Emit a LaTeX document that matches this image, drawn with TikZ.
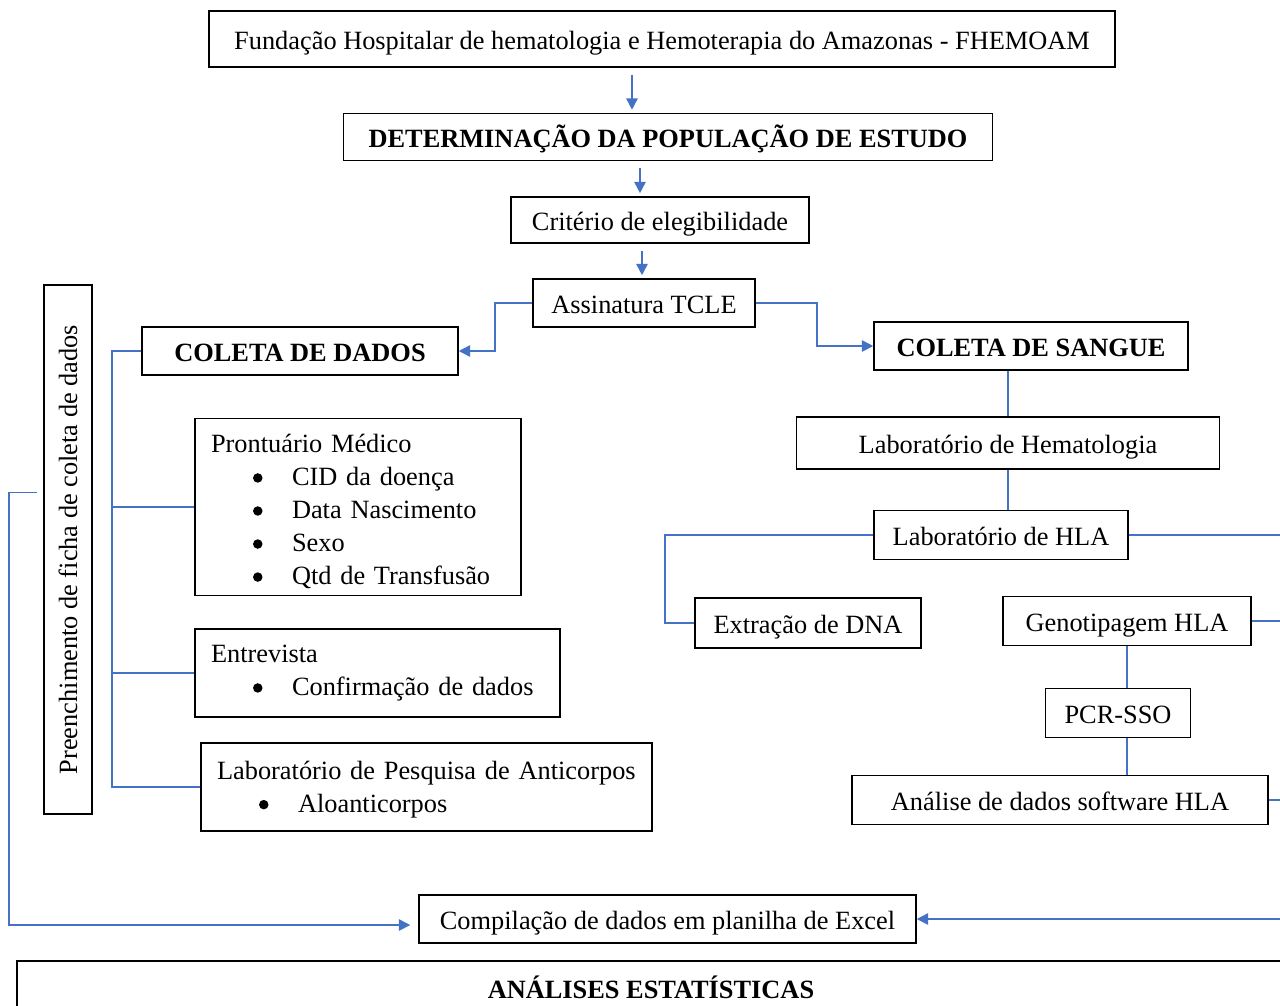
\documentclass[tikz,border=0pt]{standalone}
\usepackage{fontspec}
\setmainfont{Liberation Serif}
\usetikzlibrary{arrows.meta,calc}
\definecolor{lineblue}{HTML}{4472C4}
\newcommand{\blt}[1]{\hspace*{0.84cm}\makebox[0.78cm][l]{\tikz[baseline=-0.15cm]\fill (0,0) circle (0.095cm);}#1}
\newcommand{\liststrut}[1]{\rule{0pt}{#1}}

\begin{document}
\begin{tikzpicture}[
      x=0.02cm, y=-0.02cm,
      myframe/.style={
         draw=black,
         line width=0.9pt,
         inner sep=0pt,
         font=\fontsize{15}{18.8}\selectfont},
      mybox/.style={myframe, align=center, text height=13.5pt, text depth=2pt},
      mybold/.style={mybox, font=\fontsize{15}{18.8}\selectfont\bfseries},
      mylist/.style={myframe, align=left, inner xsep=0.32cm, inner ysep=0.1cm},
      myline/.style={draw=lineblue, line width=0.9pt},
      myarrow/.style={myline, -{Triangle[length=6.5pt,width=6.5pt]}}
      ]
      \clip (0,0) rectangle (1280,1005);
      \coordinate (edge) at (1290,0);

      \node[mybox, minimum width=18.12cm, minimum height=1.12cm] (fhe) at (662,39) {Fundação Hospitalar de hematologia e Hemoterapia do Amazonas - FHEMOAM};
      \node[mybold, minimum width=12.98cm, minimum height=0.94cm] (det) at (668,137) {DETERMINAÇÃO DA POPULAÇÃO DE ESTUDO};
      \node[mybox, minimum width=5.96cm, minimum height=0.92cm] (crit) at (660,220) {Critério de elegibilidade};
      \node[mybox, minimum width=4.44cm, minimum height=0.96cm] (tcle) at (644,303) {Assinatura TCLE};
      \node[mybold, minimum width=6.32cm, minimum height=0.96cm] (dados) at (300,351) {COLETA DE DADOS};
      \node[mybold, minimum width=6.28cm, minimum height=0.96cm] (sangue) at (1031,346) {COLETA DE SANGUE};
      \node[mybox, minimum width=8.46cm, minimum height=1.04cm] (hemato) at (1008,443) {Laboratório de Hematologia};
      \node[mybox, minimum width=5.08cm, minimum height=0.98cm] (hla) at (1001,535) {Laboratório de HLA};
      \node[mybox, minimum width=4.52cm, minimum height=1cm] (dna) at (808,623) {Extração de DNA};
      \node[mybox, minimum width=4.96cm, minimum height=0.98cm] (geno) at (1127,621) {Genotipagem HLA};
      \node[mybox, minimum width=2.9cm, minimum height=0.98cm] (pcr) at (1118,713) {PCR-SSO};
      \node[mybox, minimum width=8.32cm, minimum height=0.98cm] (analise) at (1060,800) {Análise de dados software HLA};
      \node[mylist, text width=5.88cm, minimum height=3.54cm] (pront) at (358,507) {\liststrut{15.5pt}Prontuário Médico\\ \blt{CID da doença}\\ \blt{Data Nascimento}\\ \blt{Sexo}\\ \blt{Qtd de Transfusão}};
      \node[mylist, text width=6.66cm, minimum height=1.76cm] (entrev) at (377.5,673) {Entrevista\\ \blt{Confirmação de dados}};
      \node[mylist, text width=8.38cm, minimum height=1.76cm] (lab) at (426.5,787) {\liststrut{13pt}Laboratório de Pesquisa de Anticorpos\\ \blt{Aloanticorpos}};
      \node[myframe, minimum width=0.96cm, minimum height=10.58cm] (pre) at (68,549.5) {\rotatebox{90}{Preenchimento de ficha de coleta de dados}};
      \node[mybox, minimum width=9.94cm, minimum height=0.96cm] (comp) at (667.5,919) {Compilação de dados em planilha de Excel};
      \node[mybold, minimum width=25.36cm, minimum height=1.08cm] (est) at (651,988) {ANÁLISES ESTATÍSTICAS};

    % main column
    \foreach \i/\j/\a/\b in {fhe/det/-30/-36, det/crit/-28/-20, crit/tcle/-18/-2}
       \draw[myarrow] ($(\i.south)+(\a,7)$) -- ($(\j.north)+(\b,-3)$);
    \draw[myarrow] (tcle.west) -- ++(-37,0) |- (dados.east);
    \draw[myarrow] (tcle.east) -- ++(61,0) |- (sangue.west);

    % blood branch
    \draw[myline] (sangue.south -| hemato.north) -- (hemato.north);
    \draw[myline] (hemato.south) -- (hemato.south |- hla.north);
    \draw[myline] (hla.west) -- ++(-208,0) |- (dna.west);
    \draw[myline] (geno.south) -- (geno.south |- pcr.north);
    \draw[myline] (geno.south |- pcr.south) -- (geno.south |- analise.north);
    \foreach \n in {hla, geno, analise}
       \draw[myline] (\n.east) -- (\n.east -| edge);
    \draw[myarrow] (edge |- comp.east) -- (comp.east);

    % data branch
    \coordinate (bus) at ($(dados.west)+(-29,0)$);
    \draw[myline] (dados.west) -- (bus) |- (lab.west);
    \foreach \n in {pront, entrev}
       \draw[myline] (bus |- \n.west) -- (\n.west);
    \draw[myarrow] ($(pre.west)+(-6,-57)$) -- ++(-28,0) |- ($(comp.west)+(-8,6)$);

     \end{tikzpicture}
\end{document}
